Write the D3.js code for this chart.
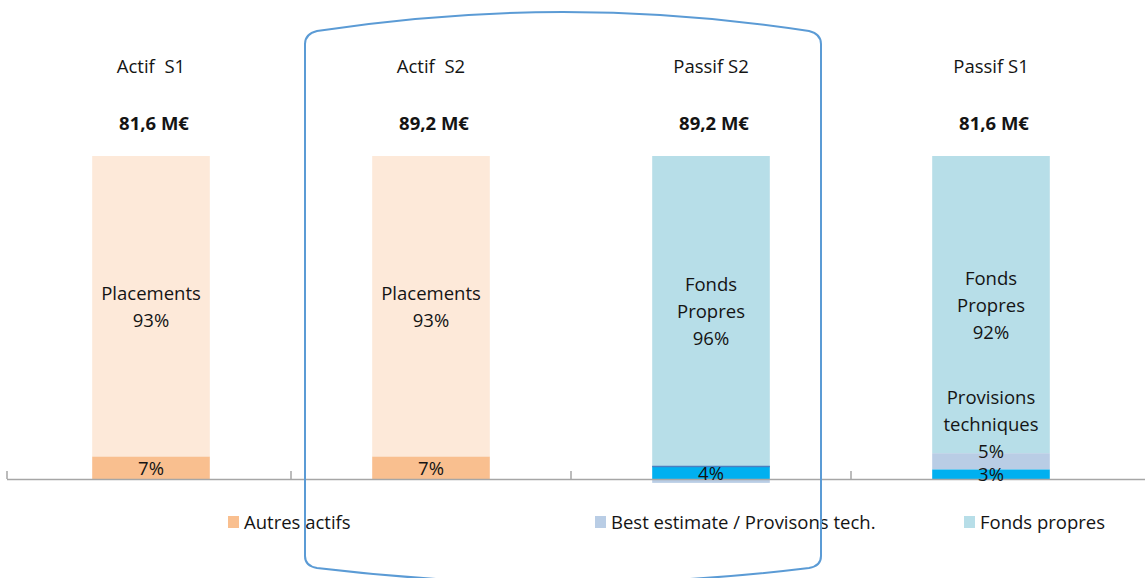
<!DOCTYPE html>
<html>
<head>
<meta charset="utf-8">
<script src="https://cdn.jsdelivr.net/npm/d3@7"></script>
<style>
  body { margin: 0; background: #fff; }
  text { font-family: "Open Sans", "Noto Sans", sans-serif; fill: #141414; white-space: pre; }
</style>
</head>
<body>
<script>
// data (percent of each column's total)
var categories = ["Actif S1", "Actif S2", "Passif S2", "Passif S1"];
var titles = ["Actif  S1", "Actif  S2", "Passif S2", "Passif S1"];
var totals = ["81,6 M€", "89,2 M€", "89,2 M€", "81,6 M€"];
var autresActifs = [7, 7, 0, 0];
var placements = [93, 93, 0, 0];
var autresPassifs = [0, 0, 4, 3];
var bestEstimate = [0, 0, -1.2, 5];
var fondsPropres = [0, 0, 96, 92];

var seriesKeys = ["autresActifs", "placements", "autresPassifs", "bestEstimate", "fondsPropres"];
var seriesColor = {
    autresActifs: "#f9bf8f",
    placements: "#fde9d9",
    autresPassifs: "#00b0f0",
    bestEstimate: "#b9cde5",
    fondsPropres: "#b7dee8"
};
var legendItems = [
    { key: "autresActifs", name: "Autres actifs" },
    { key: "bestEstimate", name: "Best estimate / Provisons tech." },
    { key: "fondsPropres", name: "Fonds propres" }
];
// label text for a segment, by series
function labelLines(key, v) {
    var pct = Math.round(v) + "%";
    if (key == "placements") return ["Placements", pct];
    if (key == "fondsPropres") return ["Fonds", "Propres", pct];
    if (key == "bestEstimate" && v > 3) return ["Provisions", "techniques", pct];
    if (key == "bestEstimate") return [];
    return [pct];
}

var rows = categories.map(function (c, i) {
    return {
        cat: c,
        autresActifs: autresActifs[i],
        placements: placements[i],
        autresPassifs: autresPassifs[i],
        bestEstimate: bestEstimate[i],
        fondsPropres: fondsPropres[i]
    };
});

var W = 1145, H = 578;
var svg = d3.select("body").append("svg")
    .attr("width", W)
    .attr("height", H);

var x = d3.scaleBand()
    .domain(categories)
    .range([11, 1131])
    .paddingInner(0.58)
    .paddingOuter(0.29);

var y = d3.scaleLinear()
    .domain([0, 100])
    .range([479, 156]);

var stack = d3.stack()
    .keys(seriesKeys)
    .offset(d3.stackOffsetDiverging);
var stacked = stack(rows);

var layers = svg.selectAll("g.layer")
    .data(stacked)
    .enter()
    .append("g")
    .attr("class", "layer")
    .attr("fill", function (d) { return seriesColor[d.key]; });

layers.selectAll("rect")
    .data(function (d) { return d.filter(function (p) { return p[1] != p[0]; }); })
    .enter()
    .append("rect")
    .attr("x", function (d) { return x(d.data.cat); })
    .attr("width", x.bandwidth())
    .attr("y", function (d) { return y(Math.max(d[0], d[1])); })
    .attr("height", function (d) { return Math.abs(y(d[0]) - y(d[1])); });

// thin darker edge on top of the small blue block
svg.selectAll("line.edge")
    .data(stacked[2].filter(function (p) { return p[1] - p[0] > 3.5; }))
    .enter()
    .append("line")
    .attr("x1", function (d) { return x(d.data.cat); })
    .attr("x2", function (d) { return x(d.data.cat) + x.bandwidth(); })
    .attr("y1", function (d) { return y(d[1]) + 0.5; })
    .attr("y2", function (d) { return y(d[1]) + 0.5; })
    .attr("stroke", "#4a7fc0")
    .attr("stroke-width", 1.5);

// axis line with upward ticks at band edges
var axisY = y(0);
svg.append("line")
    .attr("x1", 7).attr("x2", W)
    .attr("y1", axisY + 0.5).attr("y2", axisY + 0.5)
    .attr("stroke", "#a6a6a6")
    .attr("stroke-width", 1.5);
var tickXs = [7].concat(categories.slice(1).map(function (c) {
    return x(c) - x.step() * x.paddingInner() / 2;
}));
svg.selectAll("line.tick")
    .data(tickXs)
    .enter()
    .append("line")
    .attr("x1", function (d) { return d; })
    .attr("x2", function (d) { return d; })
    .attr("y1", axisY - 8)
    .attr("y2", axisY)
    .attr("stroke", "#a6a6a6")
    .attr("stroke-width", 1.5);

// segment labels
var lineH = 27;
stacked.forEach(function (layer) {
    layer.forEach(function (p) {
        var v = p[1] - p[0];
        if (v <= 0) return;
        var lines = labelLines(layer.key, v);
        if (!lines.length) return;
        var cx = x(p.data.cat) + x.bandwidth() / 2;
        var cy = (y(p[0]) + y(p[1])) / 2;
        var firstBase = cy - (lines.length - 1) * lineH / 2 + 7;
        var lastBase = firstBase + (lines.length - 1) * lineH;
        if (lines.length > 1 && lastBase > axisY - 21) {
            firstBase -= lastBase - (axisY - 21);
        }
        var t = svg.append("text")
            .attr("text-anchor", "middle")
            .attr("font-size", 18.5);
        lines.forEach(function (s, k) {
            t.append("tspan")
                .attr("x", cx)
                .attr("y", firstBase + k * lineH)
                .text(s);
        });
    });
});

// column titles and totals
svg.selectAll("text.title")
    .data(titles)
    .enter()
    .append("text")
    .attr("class", "title")
    .attr("x", function (d, i) { return x(categories[i]) + x.bandwidth() / 2; })
    .attr("y", 73)
    .attr("text-anchor", "middle")
    .attr("font-size", 18.5)
    .text(function (d) { return d; });

svg.selectAll("text.total")
    .data(totals)
    .enter()
    .append("text")
    .attr("class", "total")
    .attr("x", function (d, i) { return x(categories[i]) + x.bandwidth() / 2 + 3; })
    .attr("y", 130)
    .attr("text-anchor", "middle")
    .attr("font-size", 18.5)
    .attr("font-weight", "bold")
    .text(function (d) { return d; });

// legend
var legendX = [228, 595, 964];
var lg = svg.selectAll("g.legend")
    .data(legendItems)
    .enter()
    .append("g")
    .attr("class", "legend")
    .attr("transform", function (d, i) { return "translate(" + legendX[i] + ",522)"; });
lg.append("rect")
    .attr("x", 0).attr("y", -6)
    .attr("width", 11).attr("height", 12)
    .attr("fill", function (d) { return seriesColor[d.key]; });
lg.append("text")
    .attr("x", 16).attr("y", 7)
    .attr("font-size", 18.5)
    .text(function (d) { return d.name; });

// rounded "barrel" outline around the S2 columns
var L = 305, R = 821;
var barrel = "M" + L + ",44 Q" + L + ",34 " + (L + 12) + ",31 Q" + ((L + R) / 2) + ",-7 " + (R - 12) + ",31 Q" + R + ",34 " + R + ",44"
    + " L" + R + ",556 Q" + R + ",566 " + (R - 12) + ",568 Q" + ((L + R) / 2) + ",598 " + (L + 12) + ",568 Q" + L + ",566 " + L + ",556 Z";
svg.append("path")
    .attr("d", barrel)
    .attr("fill", "none")
    .attr("stroke", "#5b9bd5")
    .attr("stroke-width", 2);
</script>
</body>
</html>
